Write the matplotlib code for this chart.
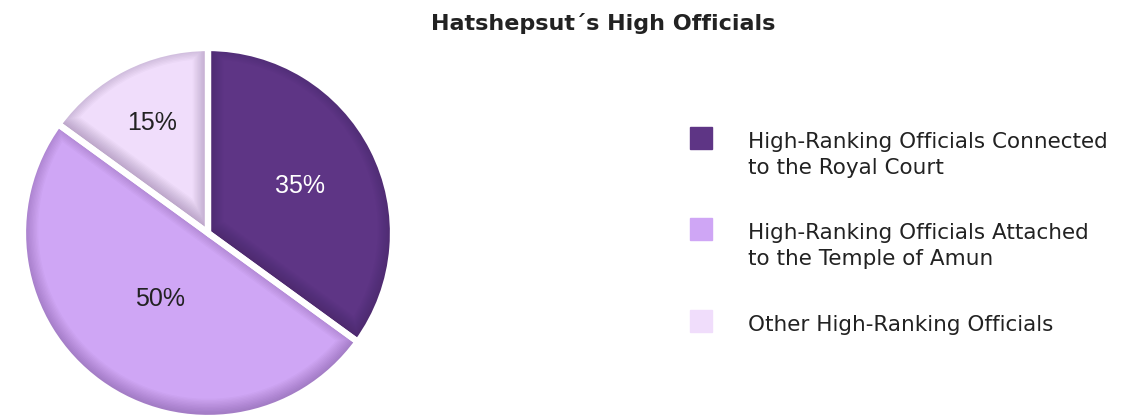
import numpy as np
import matplotlib.pyplot as plt
from matplotlib.patches import Rectangle, PathPatch
from matplotlib.transforms import Affine2D

plt.rcParams['font.family'] = ['Liberation Sans', 'DejaVu Sans']

# data
labels = ['High-Ranking Officials Connected\nto the Royal Court',
          'High-Ranking Officials Attached\nto the Temple of Amun',
          'Other High-Ranking Officials']
shares = [35, 50, 15]
colors = ['#5e3585', '#cfa6f5', '#f0ddfb']
text_colors = ['white', '#222222', '#222222']
label_dist = [0.56, 0.44, 0.67]

W, H = 1135, 418
fig = plt.figure(figsize=(W / 100, H / 100), dpi=100, facecolor='white')

# pie axes, centred at (208, 233) px
cx, cy, R = 208, 233, 185
ax = fig.add_axes([(cx - R) / W, (H - cy - R) / H, 2 * R / W, 2 * R / H])
wedges, _ = ax.pie(shares, colors=colors, startangle=90, counterclock=False,
                   radius=1.0, wedgeprops={'linewidth': 0})
ax.set_xlim(-1.0, 1.0)
ax.set_ylim(-1.0, 1.0)
ax.set_aspect('equal')
ax.axis('off')

# soft bevel: shade inside each wedge, heavier on the lower edges
for w in wedges:
    shift = w.get_transform() + Affine2D().translate(0, 4)
    for lw in range(2, 24, 2):
        sh = PathPatch(w.get_path(), transform=shift, fill=False,
                       edgecolor='#2a0a40', alpha=0.025, linewidth=lw)
        sh.set_clip_path(w)
        ax.add_patch(sh)
for w in wedges:
    ax.add_patch(PathPatch(w.get_path(), transform=w.get_transform(), fill=False,
                           edgecolor='white', linewidth=4.5))

for w, s, d, tc in zip(wedges, shares, label_dist, text_colors):
    ang = np.deg2rad((w.theta1 + w.theta2) / 2)
    ax.text(d * np.cos(ang), d * np.sin(ang), f'{s}%', ha='center', va='center',
            fontsize=18, color=tc)

fig.text(603 / W, 1 - 29.5 / H, 'Hatshepsut\u00b4s High Officials', ha='center',
         va='baseline', fontsize=16, fontweight='bold', color='#222222',
         family='DejaVu Sans')

# legend
leg_base = [148, 239, 331]
for lab, c, y in zip(labels, colors, leg_base):
    fig.patches.append(Rectangle((690 / W, 1 - (y + 1) / H), 22 / W, 22 / H,
                                 transform=fig.transFigure, color=c))
    for k, line in enumerate(lab.split('\n')):
        fig.text(748 / W, 1 - (y + 26 * k) / H, line, ha='left', va='baseline',
                 fontsize=15.5, color='#222222', family='DejaVu Sans')

plt.savefig('out.png', dpi=100, facecolor='white')
